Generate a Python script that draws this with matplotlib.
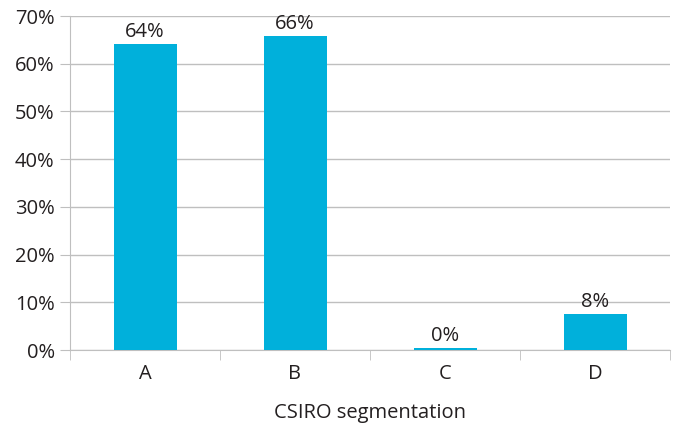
import matplotlib.pyplot as plt
from matplotlib.ticker import PercentFormatter

# Share of cases per CSIRO segmentation class (percent)
categories = ["A", "B", "C", "D"]
shares = [64.1, 65.8, 0.4, 7.5]

plt.rcParams["font.family"] = ["Open Sans", "DejaVu Sans"]
text_color = "#231f20"
grid_color = "#bfbfbf"
fs = 14.5

fig = plt.figure(figsize=(6.75, 4.29), dpi=100)
ax = fig.add_axes([70 / 675, 1 - 350 / 429, 600 / 675, 334 / 429])

x = range(len(categories))
bars = ax.bar(x, shares, width=0.42, color="#00b0db", zorder=3)
for b, v in zip(bars, shares):
    ax.text(b.get_x() + b.get_width() / 2, v + 0.5, f"{v:.0f}%",
            ha="center", va="bottom", fontsize=fs, color=text_color)

ax.set_xlim(-0.5, len(categories) - 0.5)
ax.set_ylim(0, 70)
ax.set_yticks(range(0, 71, 10))
ax.yaxis.set_major_formatter(PercentFormatter(decimals=0))
ax.set_xticks(x)
ax.set_xticklabels(categories)
ax.set_xticks([i - 0.5 for i in range(len(categories) + 1)], minor=True)

ax.grid(axis="y", color=grid_color, lw=1, zorder=0)
for s in ["top", "right"]:
    ax.spines[s].set_visible(False)
ax.spines["left"].set_color(grid_color)
ax.spines["bottom"].set_color(grid_color)

ax.tick_params(axis="y", length=7, color=grid_color, labelsize=fs,
               labelcolor=text_color, pad=4)
ax.tick_params(axis="x", which="major", length=0, labelsize=fs,
               labelcolor=text_color, pad=10)
ax.tick_params(axis="x", which="minor", length=7, color=grid_color)

ax.set_xlabel("CSIRO segmentation", fontsize=fs, color=text_color, labelpad=14)

fig.savefig("out.png", dpi=100)
